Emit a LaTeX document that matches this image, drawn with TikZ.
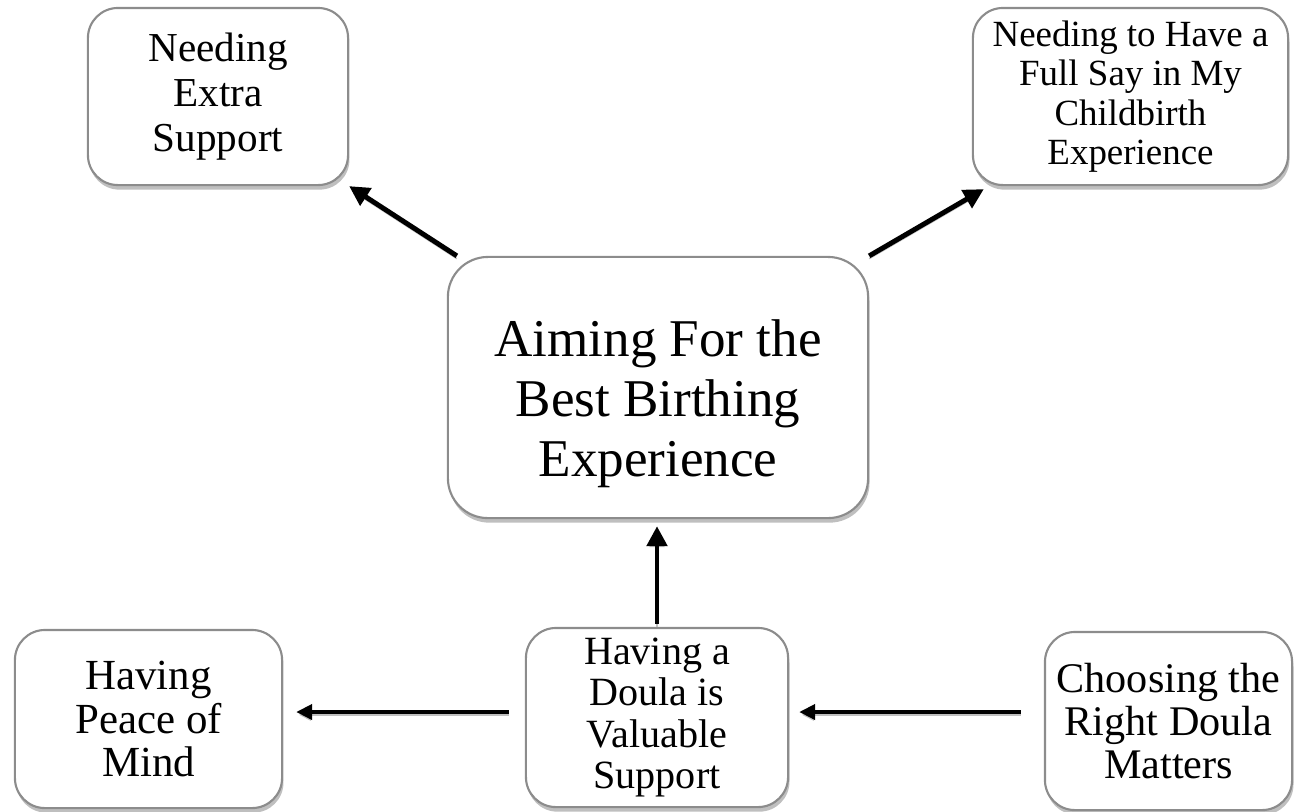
\documentclass[tikz,border=0pt]{standalone}
\usepackage{fontspec}
\setmainfont{Liberation Serif}
\usetikzlibrary{arrows.meta,shadows}

\tikzset{
  theme/.style={draw=black!45, line width=0.6pt, fill=white, rounded corners=0.3cm,
    align=center, inner sep=0pt,
    drop shadow={shadow xshift=0.4pt, shadow yshift=-1.3pt, fill=black, opacity=0.25}},
  link/.style={-{Triangle[length=0.2cm,width=0.2cm]}, line width=1.4pt,
    preaction={draw=black!25, transform canvas={yshift=-0.8pt}}},
  flatlink/.style={link, -{Triangle[length=0.16cm,width=0.15cm]}, line width=1.1pt}
}

\begin{document}
\begin{tikzpicture}[x=0.01cm, y=-0.01cm]
    \useasboundingbox (0,0) rectangle (1298,811);

    \node[theme, minimum width=4.2cm, minimum height=2.61cm, rounded corners=0.4cm] (aim) at (658,387.5) {};
    \node[align=center, inner sep=0pt, font=\fontsize{15.1}{17}\selectfont] (aimtext)
        at ([yshift=-0.16cm]aim.center) {Aiming For the\\Best Birthing\\Experience};
    \node[theme, minimum width=2.6cm, minimum height=1.77cm,
        font=\fontsize{11.7}{12.9}\selectfont] (extra) at (218,96.5) {Needing\\Extra\\Support};
    \node[theme, minimum width=3.15cm, minimum height=1.77cm,
        font=\fontsize{10.5}{11.2}\selectfont] (say) at (1130.5,96.5) {Needing to Have a\\Full Say in My\\Childbirth\\Experience};
    \node[theme, minimum width=2.62cm, minimum height=1.79cm,
        font=\fontsize{11.4}{11.8}\selectfont] (doula) at (657,717.5) {Having a\\Doula is\\Valuable\\Support};
    \node[theme, minimum width=2.67cm, minimum height=1.78cm,
        font=\fontsize{12.2}{12.3}\selectfont] (peace) at (148.5,719) {Having\\Peace of\\Mind};
    \node[theme, minimum width=2.47cm, minimum height=1.78cm,
        font=\fontsize{12}{12.1}\selectfont] (right) at (1168.5,721) {Choosing the\\Right Doula\\Matters};

    \coordinate (dl) at ([xshift=-0.16cm,yshift=0.055cm]doula.west);
    \coordinate (rw) at ([xshift=-0.23cm,yshift=0.09cm]right.west);

    \draw[link] ([xshift=0.1cm]aim.north west) -- (extra.south east);
    \draw[link] (aim.north east) -- ([xshift=0.12cm,yshift=-0.03cm]say.south west);
    \draw[link] ([yshift=0.03cm]doula.north) -- ([yshift=-0.07cm]doula.north |- aim.south);
    \draw[flatlink] (dl) -- ([xshift=0.13cm]peace.east |- dl);
    \draw[flatlink] (rw) -- ([xshift=0.1cm]doula.east |- rw);
\end{tikzpicture}
\end{document}
